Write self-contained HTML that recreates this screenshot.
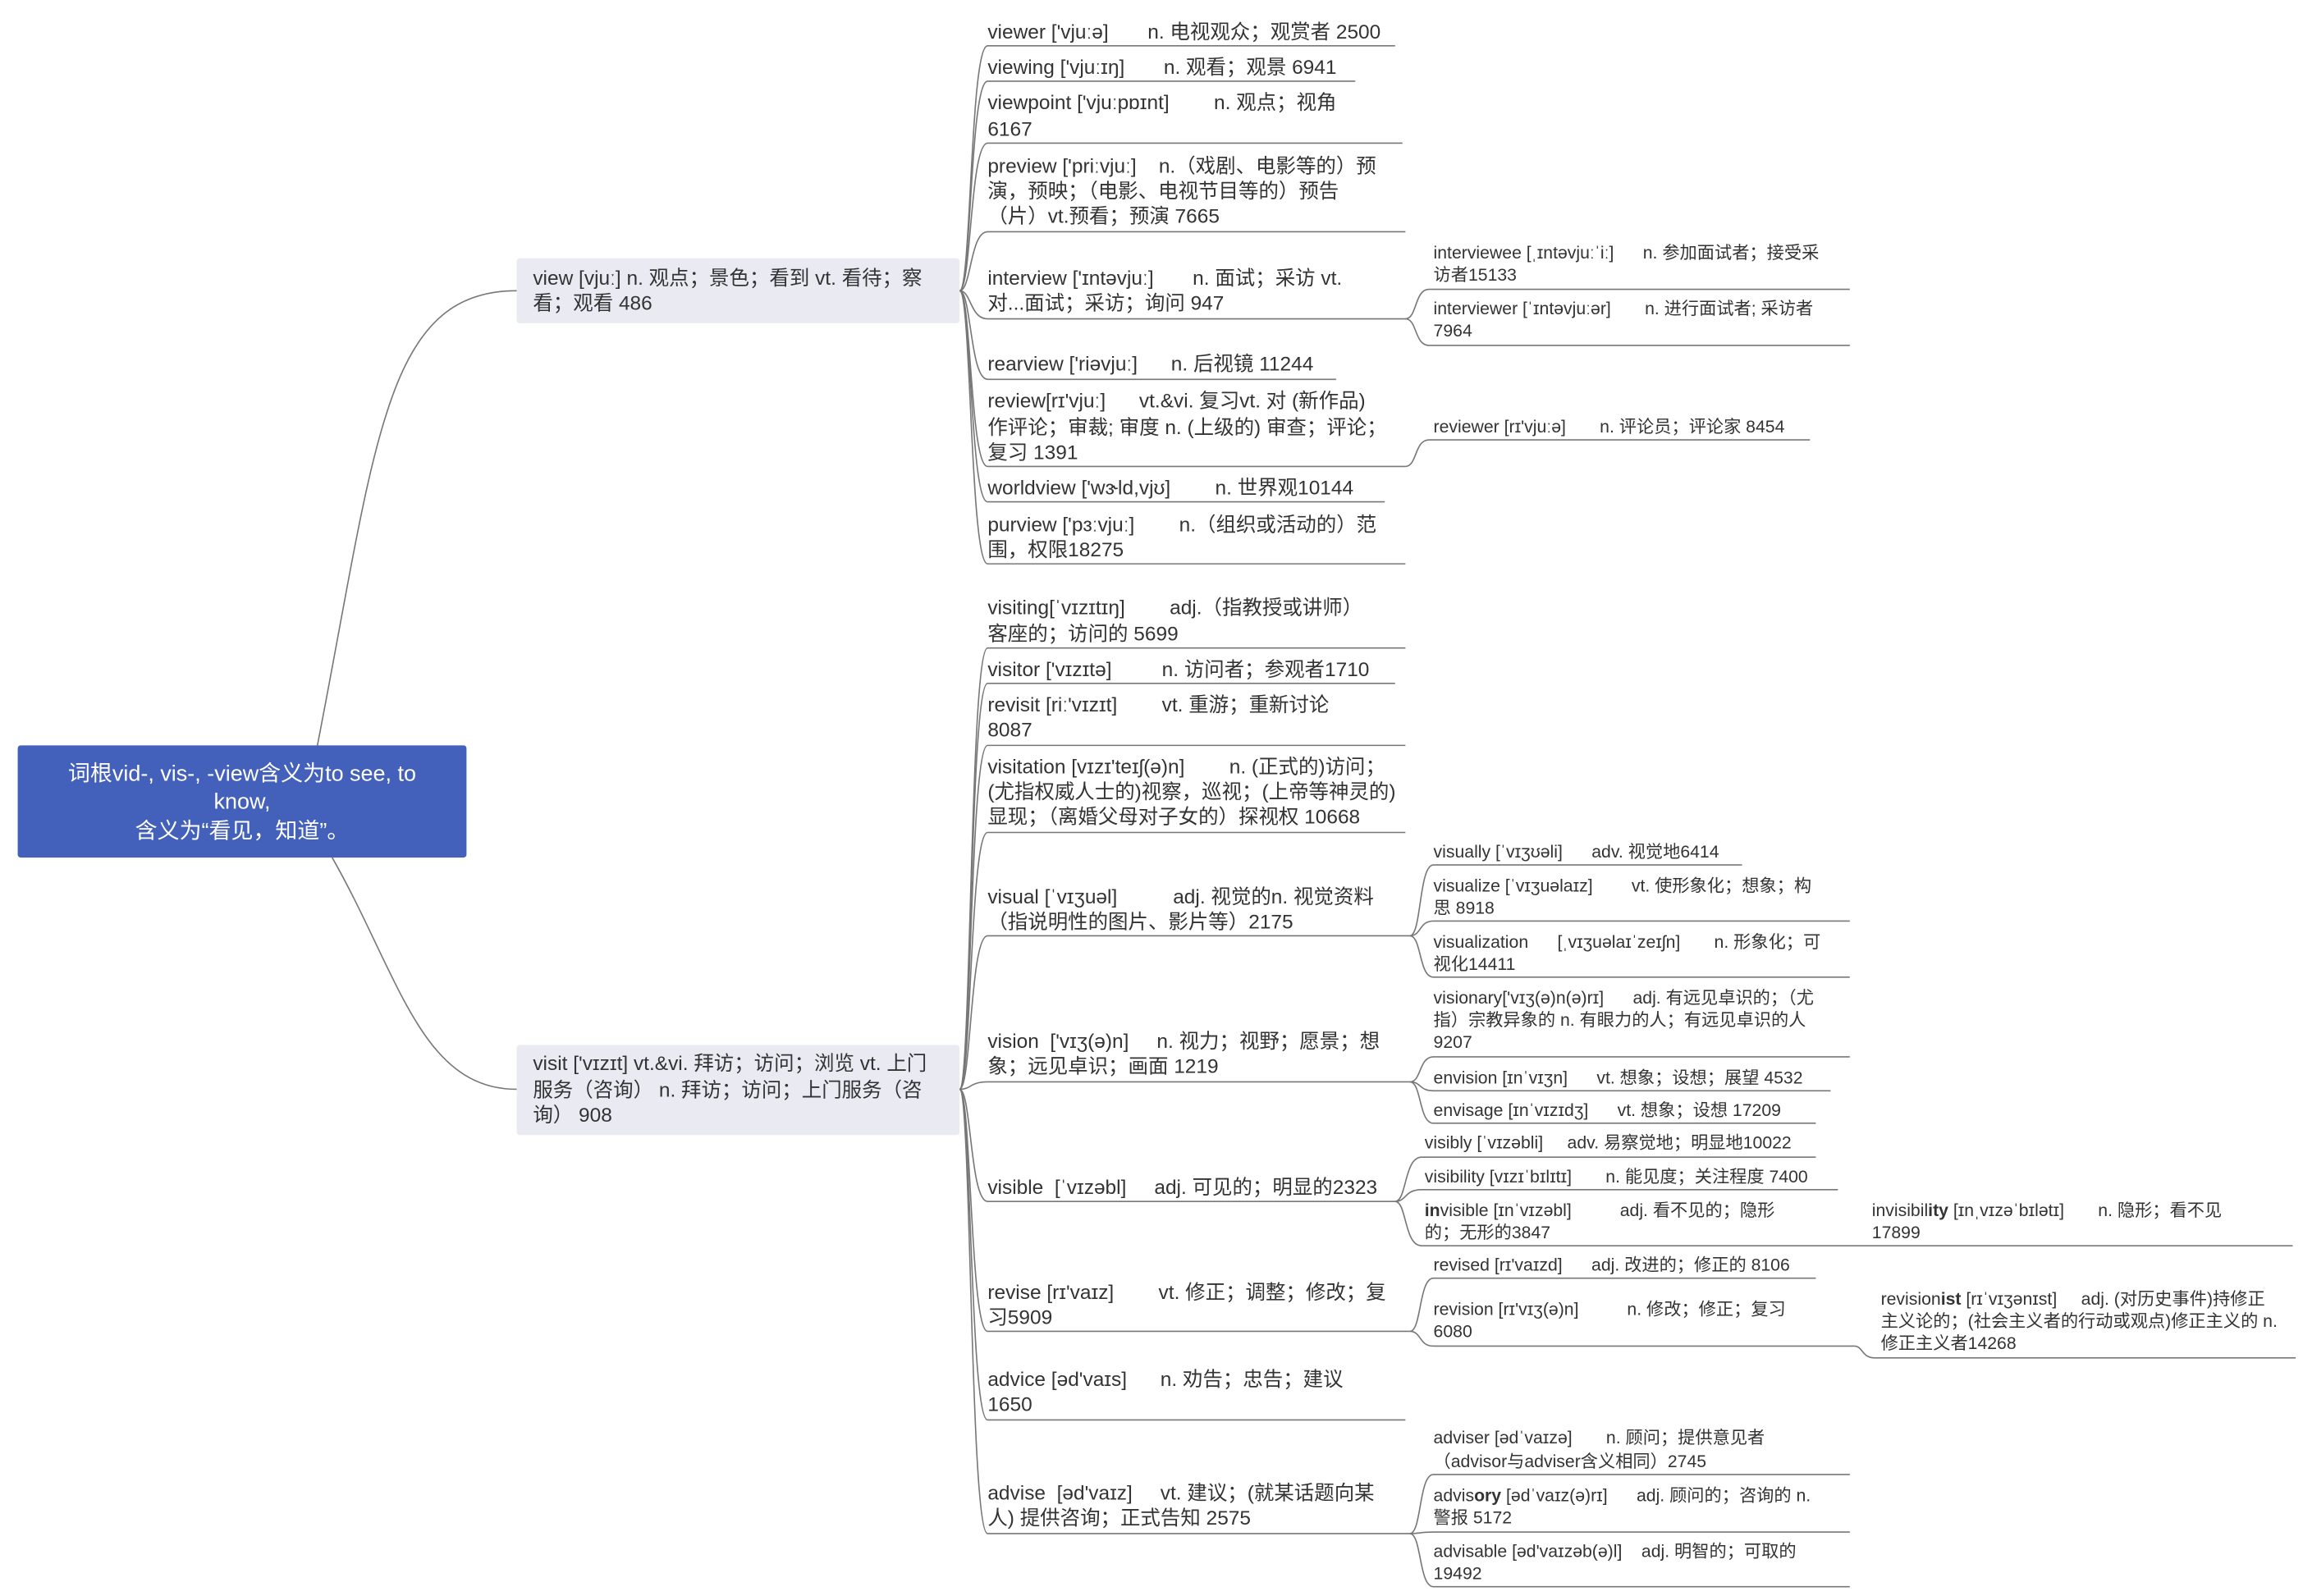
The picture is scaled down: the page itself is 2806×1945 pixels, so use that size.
<!DOCTYPE html>
<html><head><meta charset="utf-8">
<style>
html,body{margin:0;padding:0;background:#fff;}
svg{display:block;}
text{font-family:"Liberation Sans","Noto Sans CJK SC",sans-serif;fill:#333;white-space:pre;}
.a{font-size:13.6px;}
.b{font-size:11.8px;}
.r{font-size:15px;fill:#fff;}
path{fill:none;stroke:#777;stroke-width:0.9;}
</style></head><body>
<svg width="2806" height="1945" viewBox="0 0 1560 1081.3" preserveAspectRatio="none" xmlns="http://www.w3.org/2000/svg" xml:space="preserve">
<rect width="1560" height="1081.3" fill="#fff"/>
<!-- root connectors -->
<path d="M215,505 C255,300 260,197 350,197"/>
<path d="M225,581 C270,660 285,738 350,738"/>
<!-- root -->
<rect x="12" y="505" width="304" height="76" rx="2" fill="#4360BA"/>
<text class="r" x="164" y="529" text-anchor="middle">词根vid-, vis-, -view含义为to see, to</text>
<text class="r" x="164" y="548" text-anchor="middle">know,</text>
<text class="r" x="164" y="568" text-anchor="middle">含义为“看见，知道”。</text>
<!-- view -->
<rect x="350" y="175" width="300" height="44" rx="2" fill="#E9EAF2"/>
<text class="a" x="361" y="193">view [vjuː] n. 观点；景色；看到 vt. 看待；察</text>
<text class="a" x="361" y="210">看；观看 486</text>
<!-- visit -->
<rect x="350" y="708" width="300" height="61" rx="2" fill="#E9EAF2"/>
<text class="a" x="361" y="725">visit ['vɪzɪt] vt.&amp;vi. 拜访；访问；浏览 vt. 上门</text>
<text class="a" x="361" y="743">服务（咨询） n. 拜访；访问；上门服务（咨</text>
<text class="a" x="361" y="760">询） 908</text>

<!-- view children connectors -->
<path d="M650,197 C658,197 657,31 669,31 L945,31"/>
<path d="M650,197 C658,197 657,55 669,55 L918,55"/>
<path d="M650,197 C658,197 657,97 669,97 L950,97"/>
<path d="M650,197 C658,197 657,157 669,157 L952,157"/>
<path d="M650,197 C658,197 657,216 669,216 L952,216"/>
<path d="M650,197 C658,197 657,257 669,257 L905,257"/>
<path d="M650,197 C658,197 657,316 669,316 L952,316"/>
<path d="M650,197 C658,197 657,340 669,340 L938,340"/>
<path d="M650,197 C658,197 657,382 669,382 L952,382"/>
<text class="a" x="669" y="26">viewer ['vjuːə]       n. 电视观众；观赏者 2500</text>
<text class="a" x="669" y="50">viewing ['vjuːɪŋ]       n. 观看；观景 6941</text>
<text class="a" x="669" y="74">viewpoint ['vjuːpɒɪnt]        n. 观点；视角</text>
<text class="a" x="669" y="92">6167</text>
<text class="a" x="669" y="117">preview ['priːvjuː]    n.（戏剧、电影等的）预</text>
<text class="a" x="669" y="134">演，预映；（电影、电视节目等的）预告</text>
<text class="a" x="669" y="151">（片）vt.预看；预演 7665</text>
<text class="a" x="669" y="193">interview ['ɪntəvjuː]       n. 面试；采访 vt.</text>
<text class="a" x="669" y="210">对...面试；采访；询问 947</text>
<text class="a" x="669" y="251">rearview ['riəvjuː]      n. 后视镜 11244</text>
<text class="a" x="669" y="276">review[rɪ'vjuː]      vt.&amp;vi. 复习vt. 对 (新作品)</text>
<text class="a" x="669" y="294">作评论；审裁; 审度 n. (上级的) 审查；评论；</text>
<text class="a" x="669" y="311">复习 1391</text>
<text class="a" x="669" y="335">worldview ['wɝld,vjʊ]        n. 世界观10144</text>
<text class="a" x="669" y="360">purview ['pɜːvjuː]        n.（组织或活动的）范</text>
<text class="a" x="669" y="377">围，权限18275</text>

<!-- interview children -->
<path d="M952,216 C960,216 958,196 968,196 L1253,196"/>
<path d="M952,216 C960,216 958,234 968,234 L1253,234"/>
<text class="b" x="971" y="175">interviewee [ˌɪntəvjuːˈiː]      n. 参加面试者；接受采</text>
<text class="b" x="971" y="190">访者15133</text>
<text class="b" x="971" y="213">interviewer [ˈɪntəvjuːər]       n. 进行面试者; 采访者</text>
<text class="b" x="971" y="228">7964</text>
<!-- review child -->
<path d="M952,316 C960,316 958,298 968,298 L1226,298"/>
<text class="b" x="971" y="293">reviewer [rɪ'vjuːə]       n. 评论员；评论家 8454</text>

<!-- visit children connectors -->
<path d="M650,738 C658,738 657,439 669,439 L952,439"/>
<path d="M650,738 C658,738 657,463 669,463 L945,463"/>
<path d="M650,738 C658,738 657,505 669,505 L952,505"/>
<path d="M650,738 C658,738 657,564 669,564 L952,564"/>
<path d="M650,738 C658,738 657,634 669,634 L955,634"/>
<path d="M650,738 C658,738 657,733 669,733 L955,733"/>
<path d="M650,738 C658,738 657,814 669,814 L945,814"/>
<path d="M650,738 C658,738 657,902 669,902 L955,902"/>
<path d="M650,738 C658,738 657,962 669,962 L952,962"/>
<path d="M650,738 C658,738 657,1039 669,1039 L955,1039"/>
<text class="a" x="669" y="416">visiting[ˈvɪzɪtɪŋ]        adj.（指教授或讲师）</text>
<text class="a" x="669" y="434">客座的；访问的 5699</text>
<text class="a" x="669" y="458">visitor ['vɪzɪtə]         n. 访问者；参观者1710</text>
<text class="a" x="669" y="482">revisit [riː'vɪzɪt]        vt. 重游；重新讨论</text>
<text class="a" x="669" y="499">8087</text>
<text class="a" x="669" y="524">visitation [vɪzɪ'teɪʃ(ə)n]        n. (正式的)访问；</text>
<text class="a" x="669" y="541">(尤指权威人士的)视察，巡视；(上帝等神灵的)</text>
<text class="a" x="669" y="558">显现；（离婚父母对子女的）探视权 10668</text>
<text class="a" x="669" y="612">visual [ˈvɪʒuəl]          adj. 视觉的n. 视觉资料</text>
<text class="a" x="669" y="629">（指说明性的图片、影片等）2175</text>
<text class="a" x="669" y="710">vision  ['vɪʒ(ə)n]     n. 视力；视野；愿景；想</text>
<text class="a" x="669" y="727">象；远见卓识；画面 1219</text>
<text class="a" x="669" y="809">visible  [ˈvɪzəbl]     adj. 可见的；明显的2323</text>
<text class="a" x="669" y="880">revise [rɪ'vaɪz]        vt. 修正；调整；修改；复</text>
<text class="a" x="669" y="897">习5909</text>
<text class="a" x="669" y="939">advice [əd'vaɪs]      n. 劝告；忠告；建议</text>
<text class="a" x="669" y="956">1650</text>
<text class="a" x="669" y="1016">advise  [əd'vaɪz]     vt. 建议；(就某话题向某</text>
<text class="a" x="669" y="1033">人) 提供咨询；正式告知 2575</text>

<!-- visual children -->
<path d="M955,634 C963,634 961,586 971,586 L1180,586"/>
<path d="M955,634 C963,634 961,624 971,624 L1253,624"/>
<path d="M955,634 C963,634 961,662 971,662 L1253,662"/>
<text class="b" x="971" y="581">visually [ˈvɪʒʊəli]      adv. 视觉地6414</text>
<text class="b" x="971" y="604">visualize [ˈvɪʒuəlaɪz]        vt. 使形象化；想象；构</text>
<text class="b" x="971" y="619">思 8918</text>
<text class="b" x="971" y="642">visualization      [ˌvɪʒuəlaɪˈzeɪʃn]       n. 形象化；可</text>
<text class="b" x="971" y="657">视化14411</text>
<!-- vision children -->
<path d="M955,733 C963,733 961,716 971,716 L1253,716"/>
<path d="M955,733 C963,733 961,739 971,739 L1240,739"/>
<path d="M955,733 C963,733 961,761 971,761 L1230,761"/>
<text class="b" x="971" y="680">visionary['vɪʒ(ə)n(ə)rɪ]      adj. 有远见卓识的；（尤</text>
<text class="b" x="971" y="695">指）宗教异象的 n. 有眼力的人；有远见卓识的人</text>
<text class="b" x="971" y="710">9207</text>
<text class="b" x="971" y="734">envision [ɪnˈvɪʒn]      vt. 想象；设想；展望 4532</text>
<text class="b" x="971" y="756">envisage [ɪnˈvɪzɪdʒ]      vt. 想象；设想 17209</text>
<!-- visible children -->
<path d="M945,814 C953,814 951,784 963,784 L1230,784"/>
<path d="M945,814 C953,814 951,806 963,806 L1245,806"/>
<path d="M945,814 C953,814 951,844 963,844 L1553,844"/>
<text class="b" x="965" y="778">visibly [ˈvɪzəbli]     adv. 易察觉地；明显地10022</text>
<text class="b" x="965" y="801">visibility [vɪzɪˈbɪlɪtɪ]       n. 能见度；关注程度 7400</text>
<text class="b" x="965" y="824"><tspan font-weight="bold">in</tspan>visible [ɪnˈvɪzəbl]          adj. 看不见的；隐形</text>
<text class="b" x="965" y="839">的；无形的3847</text>
<text class="b" x="1268" y="824">invisibil<tspan font-weight="bold">ity</tspan> [ɪnˌvɪzəˈbɪlətɪ]       n. 隐形；看不见</text>
<text class="b" x="1268" y="839">17899</text>
<!-- revise children -->
<path d="M955,902 C963,902 961,866 971,866 L1230,866"/>
<path d="M955,902 C963,902 961,912 971,912 L1256,912 C1262,912 1261,920 1270,920 L1555,920"/>
<text class="b" x="971" y="861">revised [rɪ'vaɪzd]      adj. 改进的；修正的 8106</text>
<text class="b" x="971" y="891">revision [rɪ'vɪʒ(ə)n]          n. 修改；修正；复习</text>
<text class="b" x="971" y="906">6080</text>
<text class="b" x="1274" y="884">revision<tspan font-weight="bold">ist</tspan> [rɪˈvɪʒənɪst]     adj. (对历史事件)持修正</text>
<text class="b" x="1274" y="899">主义论的；(社会主义者的行动或观点)修正主义的 n.</text>
<text class="b" x="1274" y="914">修正主义者14268</text>
<!-- advise children -->
<path d="M955,1039 C963,1039 961,999 971,999 L1253,999"/>
<path d="M955,1039 C963,1039 961,1038 971,1038 L1253,1038"/>
<path d="M955,1039 C963,1039 961,1075 971,1075 L1253,1075"/>
<text class="b" x="971" y="978">adviser [ədˈvaɪzə]       n. 顾问；提供意见者</text>
<text class="b" x="971" y="994">（advisor与adviser含义相同）2745</text>
<text class="b" x="971" y="1017">advis<tspan font-weight="bold">ory</tspan> [ədˈvaɪz(ə)rɪ]      adj. 顾问的；咨询的 n.</text>
<text class="b" x="971" y="1032">警报 5172</text>
<text class="b" x="971" y="1055">advisable [əd'vaɪzəb(ə)l]    adj. 明智的；可取的</text>
<text class="b" x="971" y="1070">19492</text>
</svg>
</body></html>
